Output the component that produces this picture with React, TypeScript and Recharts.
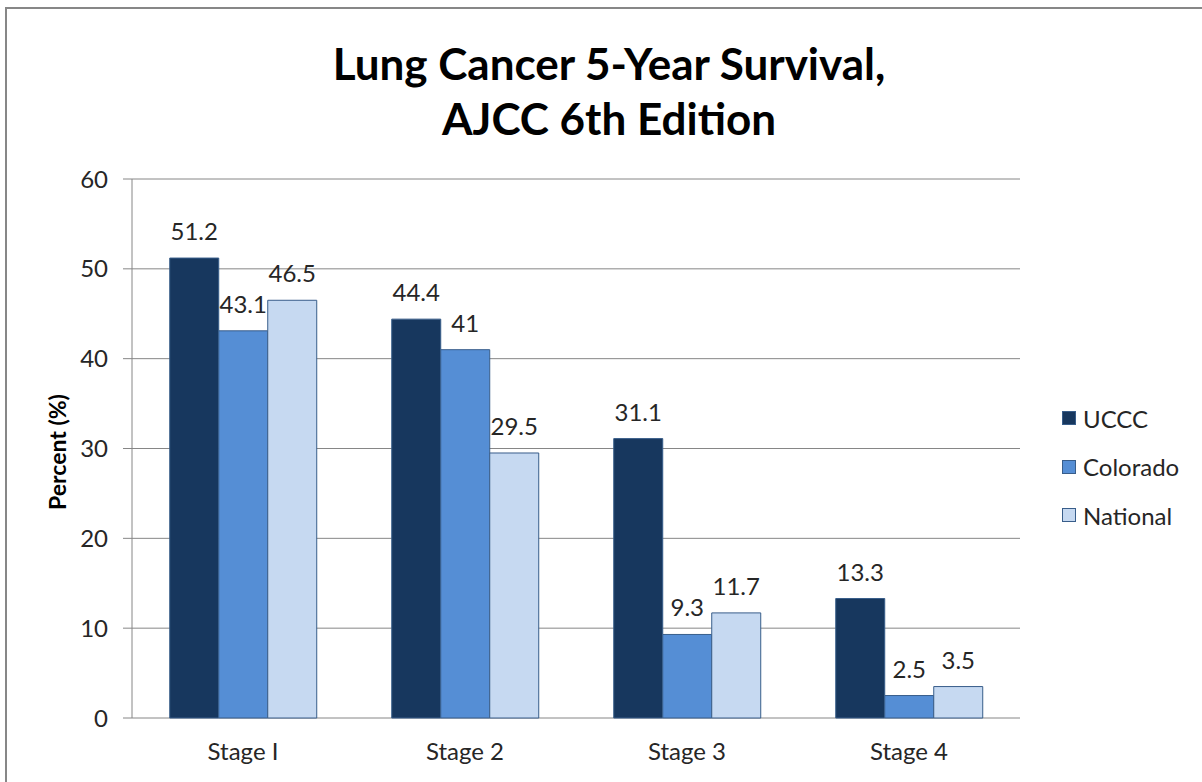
import { BarChart, Bar, XAxis, YAxis, CartesianGrid, LabelList } from 'recharts'

const stages = ['Stage I', 'Stage 2', 'Stage 3', 'Stage 4']
const uccc = [51.2, 44.4, 31.1, 13.3]
const colorado = [43.1, 41, 9.3, 2.5]
const national = [46.5, 29.5, 11.7, 3.5]
const yTicks = [0, 10, 20, 30, 40, 50, 60]
const boundaryTicks = [0, 1, 2, 3, 4]

const seriesNames = ['UCCC', 'Colorado', 'National']
const seriesColors = ['#17375E', '#558ED5', '#C6D9F1']

const FONT = 'Lato, "Open Sans", sans-serif'
const GRID = '#868686'
const TEXT = '#262626'
const FS = 24

const data = stages.map((stage, i) => ({
  stage,
  UCCC: uccc[i],
  Colorado: colorado[i],
  National: national[i],
}))

export default function App() {
  return (
    <div style={{ position: 'absolute', left: 0, top: 0, width: 1202, height: 782, overflow: 'hidden', background: '#fff' }}>
      <div
        style={{
          position: 'absolute',
          left: 5,
          top: 7,
          width: 1400,
          height: 1000,
          border: '2px solid #878787',
        }}
      />
      <div
        style={{
          position: 'absolute',
          left: 0,
          top: 36,
          width: 1218,
          textAlign: 'center',
          fontFamily: FONT,
          fontWeight: 700,
          fontSize: 44,
          lineHeight: '55px',
          color: '#000',
        }}
      >
        Lung Cancer 5-Year Survival,
        <br />
        AJCC 6th Edition
      </div>
      <div
        style={{
          position: 'absolute',
          left: 57,
          top: 452,
          transform: 'translate(-50%, -50%) rotate(-90deg)',
          fontFamily: FONT,
          fontWeight: 700,
          fontSize: 23,
          whiteSpace: 'nowrap',
          color: '#000',
        }}
      >
        Percent (%)
      </div>
      <div style={{ position: 'absolute', left: 0, top: 0 }}>
        <BarChart
          width={1202}
          height={782}
          data={data}
          margin={{ top: 179, right: 182, bottom: 0, left: 0 }}
          barCategoryGap="17%"
          barGap={0}
          style={{ fontFamily: FONT }}
        >
          <CartesianGrid vertical={false} stroke={GRID} strokeWidth={1} />
          <XAxis
            xAxisId="bounds"
            type="number"
            domain={[0, 4]}
            ticks={boundaryTicks}
            allowDataOverflow
            height={0}
            tickFormatter={() => ''}
            tickSize={8}
            stroke={GRID}
            tickLine={{ stroke: GRID }}
            axisLine={{ stroke: GRID }}
          />
          <XAxis
            dataKey="stage"
            xAxisId="cat"
            height={64}
            axisLine={false}
            tickLine={false}
            tickSize={0}
            tickMargin={25}
            tick={{ fontSize: FS, fill: TEXT, fontFamily: FONT }}
          />
          <YAxis
            width={132}
            domain={[0, 60]}
            ticks={yTicks}
            tickSize={9}
            tickMargin={15}
            axisLine={{ stroke: GRID }}
            tickLine={{ stroke: GRID }}
            tick={{ fontSize: FS, fill: TEXT, fontFamily: FONT }}
          />
          {seriesNames.map((name, i) => (
            <Bar
              key={name}
              dataKey={name}
              xAxisId="cat"
              fill={seriesColors[i]}
              stroke="#385D8A"
              strokeWidth={1}
              isAnimationActive={false}
            >
              <LabelList dataKey={name} position="top" offset={18} style={{ fontSize: FS, fill: TEXT, fontFamily: FONT }} />
            </Bar>
          ))}
        </BarChart>
      </div>
      <div style={{ position: 'absolute', left: 1062, top: 394, fontFamily: FONT, fontSize: FS, color: TEXT }}>
        {seriesNames.map((name, i) => (
          <div key={name} style={{ display: 'flex', alignItems: 'center', height: 48.5 }}>
            <span
              style={{
                width: 12,
                height: 12,
                background: seriesColors[i],
                border: '1px solid #385D8A',
                marginRight: 7,
                display: 'inline-block',
              }}
            />
            {name}
          </div>
        ))}
      </div>
    </div>
  )
}
